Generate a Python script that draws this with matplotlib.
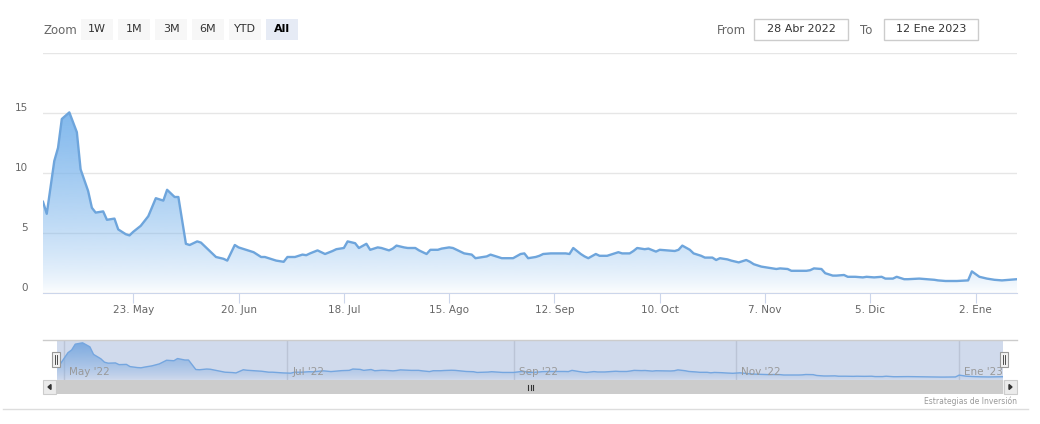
import numpy as np
import pandas as pd
import matplotlib
matplotlib.use("Agg")
import matplotlib.pyplot as plt
import matplotlib.dates as mdates
from matplotlib.patches import Rectangle, Polygon
from matplotlib.transforms import ScaledTranslation, blended_transform_factory

plt.rcParams['font.family'] = ['DejaVu Sans']

# datos
fechas = [
    "2022-04-29", "2022-04-30", "2022-05-02", "2022-05-03", "2022-05-04", "2022-05-06",
    "2022-05-08", "2022-05-09", "2022-05-11", "2022-05-12", "2022-05-13", "2022-05-15",
    "2022-05-16", "2022-05-18", "2022-05-19", "2022-05-21", "2022-05-22", "2022-05-23",
    "2022-05-25", "2022-05-27", "2022-05-29", "2022-05-31", "2022-06-01", "2022-06-03",
    "2022-06-04", "2022-06-06", "2022-06-07", "2022-06-09", "2022-06-10", "2022-06-12",
    "2022-06-14", "2022-06-16", "2022-06-17", "2022-06-19", "2022-06-20", "2022-06-22",
    "2022-06-24", "2022-06-26", "2022-06-27", "2022-06-29", "2022-06-30", "2022-07-02",
    "2022-07-03", "2022-07-05", "2022-07-07", "2022-07-08", "2022-07-09", "2022-07-11",
    "2022-07-12", "2022-07-13", "2022-07-15", "2022-07-16", "2022-07-18", "2022-07-19",
    "2022-07-21", "2022-07-22", "2022-07-24", "2022-07-25", "2022-07-27", "2022-07-28",
    "2022-07-30", "2022-07-31", "2022-08-01", "2022-08-03", "2022-08-04", "2022-08-06",
    "2022-08-07", "2022-08-09", "2022-08-10", "2022-08-12", "2022-08-13", "2022-08-15",
    "2022-08-16", "2022-08-18", "2022-08-19", "2022-08-21", "2022-08-22", "2022-08-24",
    "2022-08-25", "2022-08-26", "2022-08-28", "2022-08-29", "2022-08-31", "2022-09-01",
    "2022-09-03", "2022-09-04", "2022-09-05", "2022-09-07", "2022-09-08", "2022-09-09",
    "2022-09-11", "2022-09-13", "2022-09-15", "2022-09-16", "2022-09-17", "2022-09-19",
    "2022-09-20", "2022-09-21", "2022-09-23", "2022-09-24", "2022-09-26", "2022-09-28",
    "2022-09-29", "2022-09-30", "2022-10-02", "2022-10-03", "2022-10-04", "2022-10-06",
    "2022-10-07", "2022-10-09", "2022-10-10", "2022-10-12", "2022-10-14", "2022-10-15",
    "2022-10-16", "2022-10-18", "2022-10-19", "2022-10-21", "2022-10-22", "2022-10-24",
    "2022-10-25", "2022-10-26", "2022-10-28", "2022-10-29", "2022-10-31", "2022-11-02",
    "2022-11-03", "2022-11-04", "2022-11-06", "2022-11-08", "2022-11-10", "2022-11-11",
    "2022-11-13", "2022-11-14", "2022-11-16", "2022-11-18", "2022-11-19", "2022-11-20",
    "2022-11-22", "2022-11-23", "2022-11-25", "2022-11-26", "2022-11-28", "2022-11-29",
    "2022-12-01", "2022-12-03", "2022-12-04", "2022-12-06", "2022-12-08", "2022-12-09",
    "2022-12-11", "2022-12-12", "2022-12-14", "2022-12-15", "2022-12-18", "2022-12-20",
    "2022-12-22", "2022-12-23", "2022-12-25", "2022-12-27", "2022-12-28", "2022-12-31",
    "2023-01-01", "2023-01-03", "2023-01-05", "2023-01-07", "2023-01-09", "2023-01-11",
    "2023-01-13",
]
valores = [
    7.6, 6.6, 11.0, 12.1, 14.5, 15.05,
    13.4, 10.3, 8.5, 7.1, 6.7, 6.8,
    6.1, 6.2, 5.3, 4.9, 4.8, 5.1,
    5.6, 6.4, 7.9, 7.7, 8.6, 8.0,
    8.0, 4.1, 4.0, 4.3, 4.2, 3.6,
    3.0, 2.85, 2.7, 4.0, 3.8, 3.6,
    3.4, 3.0, 3.0, 2.8, 2.7, 2.6,
    3.0, 3.0, 3.2, 3.15, 3.3, 3.55,
    3.4, 3.25, 3.5, 3.65, 3.75, 4.3,
    4.15, 3.75, 4.1, 3.6, 3.8, 3.75,
    3.55, 3.7, 3.95, 3.8, 3.75, 3.75,
    3.55, 3.25, 3.6, 3.6, 3.7, 3.8,
    3.75, 3.45, 3.3, 3.2, 2.9, 3.0,
    3.05, 3.2, 3.0, 2.9, 2.9, 2.9,
    3.25, 3.3, 2.9, 3.0, 3.1, 3.25,
    3.3, 3.3, 3.3, 3.25, 3.75, 3.25,
    3.05, 2.9, 3.25, 3.1, 3.1, 3.3,
    3.4, 3.3, 3.3, 3.5, 3.75, 3.65,
    3.7, 3.45, 3.6, 3.55, 3.5, 3.6,
    3.95, 3.6, 3.3, 3.1, 2.95, 2.95,
    2.75, 2.9, 2.8, 2.7, 2.55, 2.75,
    2.6, 2.4, 2.2, 2.1, 2.0, 2.05,
    2.0, 1.85, 1.85, 1.85, 1.9, 2.05,
    2.0, 1.65, 1.45, 1.45, 1.5, 1.35,
    1.35, 1.3, 1.35, 1.3, 1.35, 1.2,
    1.2, 1.35, 1.15, 1.15, 1.2, 1.15,
    1.1, 1.05, 1.0, 1.0, 1.0, 1.05,
    1.8, 1.35, 1.2, 1.1, 1.05, 1.1,
    1.15,
]

y_ticks = [0, 5, 10, 15, 20]
y_labels = ["0", "5", "10", "15", ""]
x_tick_fechas = pd.date_range("2022-05-23", periods=9, freq="28D")
x_labels = ["23. May", "20. Jun", "18. Jul", "15. Ago", "12. Sep", "10. Oct", "7. Nov", "5. Dic", "2. Ene"]
nav_fechas = pd.date_range("2022-05-01", periods=5, freq="2MS")
nav_labels = ["May '22", "Jul '22", "Sep '22", "Nov '22", "Ene '23"]
botones = ["1W", "1M", "3M", "6M", "YTD", "All"]

W, H = 1040, 424
x = mdates.date2num(pd.to_datetime(fechas))
v = np.array(valores)

fig = plt.figure(figsize=(W / 100, H / 100), dpi=100)
fig.patch.set_facecolor("white")

azul = np.array([124, 181, 236]) / 255


def degradado(axis, potencia, alfa_max):
    g = np.linspace(0, 1, 256)[:, None]
    img = np.zeros((256, 1, 4))
    img[..., :3] = azul
    img[..., 3] = alfa_max * g ** potencia
    poly = axis.fill_between(x, v, 0, facecolor="none", edgecolor="none")
    im = axis.imshow(img, extent=[x[0], x[-1], 0, v.max()], origin="lower",
                     aspect="auto", zorder=1, interpolation="bilinear")
    im.set_clip_path(poly.get_paths()[0], transform=axis.transData)


# grafico principal
ax = fig.add_axes([43 / W, 1 - 293 / H, 974 / W, 240 / H])
degradado(ax, 0.7, 0.95)
ax.plot(x, v, color="#6ea5dc", lw=1.7, zorder=3)
ax.set_xlim(x[0], x[-1])
ax.set_ylim(0, 20)
ax.set_yticks(y_ticks, y_labels)
ax.grid(axis="y", color="#e6e6e6", lw=1)
ax.set_axisbelow(True)
ax.tick_params(axis="y", length=0, pad=11, labelsize=7.5, labelcolor="#666666")
for lab in ax.get_yticklabels():
    lab.set_transform(lab.get_transform() + ScaledTranslation(0, 0.06, fig.dpi_scale_trans))
ax.set_xticks(mdates.date2num(x_tick_fechas), x_labels)
ax.tick_params(axis="x", length=7, color="#ccd6eb", pad=1.5, labelsize=7.5, labelcolor="#666666")
for s in ["top", "right", "left"]:
    ax.spines[s].set_visible(False)
ax.spines["bottom"].set_color("#ccd6eb")

# navegador
nav = fig.add_axes([57 / W, 1 - 380 / H, 946 / W, 40 / H])
nav.set_xlim(x[0], x[-1])
nav.set_ylim(-0.2, 16.2)
nav.set_xticks([])
nav.set_yticks([])
for s in nav.spines.values():
    s.set_visible(False)
tr = blended_transform_factory(nav.transData, nav.transAxes)
for f, lab in zip(mdates.date2num(nav_fechas), nav_labels):
    nav.axvline(f, color="#e0e0e0", lw=1, zorder=0)
    nav.text(f, 0.2, lab, transform=tr + ScaledTranslation(0.05, 0, fig.dpi_scale_trans),
             ha="left", va="center", fontsize=7.5, color="#999999", zorder=7)
degradado(nav, 0.8, 0.9)
nav.plot(x, v, color="#7cb5ec", lw=1, zorder=3)
nav.add_patch(Rectangle((0, 0), 1, 1, transform=nav.transAxes,
                        facecolor=(102 / 255, 133 / 255, 194 / 255, 0.3), edgecolor="none", zorder=5))

# capa de interfaz en pixeles
ov = fig.add_axes([0, 0, 1, 1], zorder=10)
ov.set_xlim(0, W)
ov.set_ylim(H, 0)
ov.axis("off")

ov.plot([43, 1017], [340, 340], color="#cccccc", lw=1)
ov.add_patch(Rectangle((43, 380), 974, 14, facecolor="#f2f2f2", edgecolor="none"))
ov.add_patch(Rectangle((56, 380), 947, 14, facecolor="#cccccc", edgecolor="none"))
ov.add_patch(Rectangle((43, 380), 13, 14, facecolor="#ebebeb", edgecolor="#cccccc", lw=0.8))
ov.add_patch(Rectangle((1004, 380), 13, 14, facecolor="#ebebeb", edgecolor="#cccccc", lw=0.8))
ov.add_patch(Polygon([(48, 387), (51, 384.5), (51, 389.5)], color="#333333"))
ov.add_patch(Polygon([(1012, 387), (1009, 384.5), (1009, 389.5)], color="#333333"))
for xr in [528, 530.5, 533]:
    ov.plot([xr, xr], [384.5, 389.5], color="#333333", lw=0.8)
for xh in [52, 1000]:
    ov.add_patch(Rectangle((xh, 352), 8, 15, facecolor="#f2f2f2", edgecolor="#999999", lw=0.8))
    for dx in [3, 5]:
        ov.plot([xh + dx, xh + dx], [355, 364], color="#333333", lw=0.6)

ov.plot([3, 1028], [409, 409], color="#dddddd", lw=1)
ov.text(1017, 401, "Estrategias de Inversión", ha="right", va="center", fontsize=5.5, color="#999999")

ov.text(43, 30, "Zoom", ha="left", va="center", fontsize=8.5, color="#666666")
for i, b in enumerate(botones):
    x0 = 81 + 37 * i
    activo = b == "All"
    ov.add_patch(Rectangle((x0, 19), 32, 21, facecolor="#e6ebf5" if activo else "#f7f7f7", edgecolor="none"))
    ov.text(x0 + 16, 29.5, b, ha="center", va="center", fontsize=8,
            color="#000000" if activo else "#333333", fontweight="bold" if activo else "normal")

ov.text(717, 30, "From", ha="left", va="center", fontsize=8.5, color="#666666")
ov.add_patch(Rectangle((754, 19), 94, 21, facecolor="white", edgecolor="#cccccc", lw=1))
ov.text(801, 29.5, "28 Abr 2022", ha="center", va="center", fontsize=8, color="#333333")
ov.text(860, 30, "To", ha="left", va="center", fontsize=8.5, color="#666666")
ov.add_patch(Rectangle((884, 19), 94, 21, facecolor="white", edgecolor="#cccccc", lw=1))
ov.text(931, 29.5, "12 Ene 2023", ha="center", va="center", fontsize=8, color="#333333")

fig.savefig("out.png", dpi=100)
